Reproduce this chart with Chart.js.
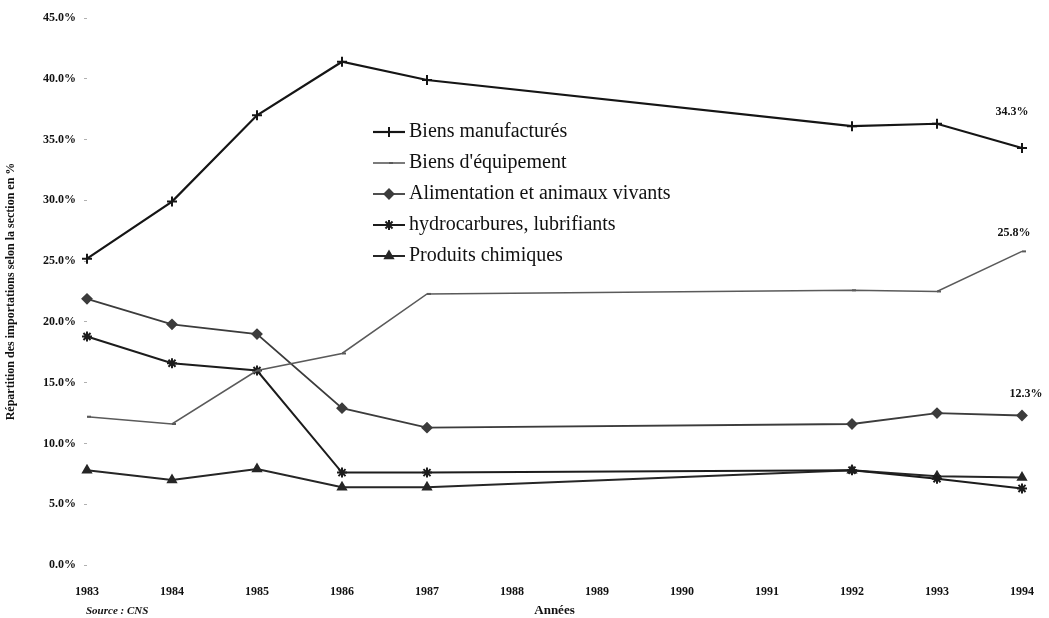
<!DOCTYPE html>
<html lang="fr">
<head>
<meta charset="utf-8">
<title>Répartition des importations selon la section</title>
<script src="https://cdn.jsdelivr.net/npm/chart.js@4/dist/chart.umd.min.js"></script>
<style>
  html, body { margin: 0; padding: 0; background: #fff; }
  #wrap { width: 1049px; height: 618px; position: relative; }
</style>
</head>
<body>
<div id="wrap"><canvas id="importChart" width="1049" height="618"></canvas></div>
<script>
/* ---------- données ---------- */
const annees = ['1983', '1984', '1985', '1986', '1987', '1988', '1989', '1990', '1991', '1992', '1993', '1994'];

// pas de relevé entre 1988 et 1991 : la courbe relie 1987 à 1992
const biensManufactures = [25.2, 29.9, 37.0, 41.4, 39.9, null, null, null, null, 36.1, 36.3, 34.3];
const biensEquipement   = [12.2, 11.6, 16.0, 17.4, 22.3, null, null, null, null, 22.6, 22.5, 25.8];
const alimentation      = [21.9, 19.8, 19.0, 12.9, 11.3, null, null, null, null, 11.6, 12.5, 12.3];
const hydrocarbures     = [18.8, 16.6, 16.0,  7.6,  7.6, null, null, null, null,  7.8,  7.1,  6.3];
const produitsChimiques = [ 7.8,  7.0,  7.9,  6.4,  6.4, null, null, null, null,  7.8,  7.3,  7.2];

const yTicks = [0, 5, 10, 15, 20, 25, 30, 35, 40, 45];

const SERIF = '"Liberation Serif", "DejaVu Serif", serif';

/* ---------- légende dessinée dans la zone du graphique ---------- */
const legendeInterne = {
    id: 'legendeInterne',
    afterDatasetsDraw(chart, args, opts) {
        const ctx = chart.ctx;
        ctx.save();
        chart.data.datasets.forEach((ds, i) => {
            const y = opts.y + i * opts.step;
            ctx.strokeStyle = ds.borderColor;
            ctx.lineWidth = ds.borderWidth;
            ctx.beginPath();
            ctx.moveTo(opts.x, y);
            ctx.lineTo(opts.x + opts.sample, y);
            ctx.stroke();
            ctx.fillStyle = ds.pointBackgroundColor;
            ctx.strokeStyle = ds.pointBorderColor;
            ctx.lineWidth = ds.pointBorderWidth;
            Chart.helpers.drawPoint(ctx, {
                pointStyle: ds.pointStyle,
                radius: ds.pointRadius,
                borderWidth: ds.pointBorderWidth,
                rotation: 0
            }, opts.x + opts.sample / 2, y);
            ctx.fillStyle = '#111';
            ctx.font = opts.font;
            ctx.textAlign = 'left';
            ctx.textBaseline = 'middle';
            ctx.fillText(ds.label, opts.x + opts.sample + 4, y);
        });
        ctx.restore();
    }
};

/* ---------- valeurs 1994 affichées au-dessus des points ---------- */
const etiquettesFin = {
    id: 'etiquettesFin',
    afterDatasetsDraw(chart, args, opts) {
        const ctx = chart.ctx;
        ctx.save();
        ctx.fillStyle = '#111';
        ctx.font = opts.font;
        ctx.textAlign = 'center';
        ctx.textBaseline = 'bottom';
        opts.items.forEach(item => {
            const meta = chart.getDatasetMeta(item.dataset);
            const last = meta.data.length - 1;
            const pt = meta.data[last];
            const v = chart.data.datasets[item.dataset].data[last];
            ctx.fillText(v.toFixed(1) + '%', pt.x + item.dx, pt.y - item.dy);
        });
        ctx.restore();
    }
};

/* ---------- mention de la source ---------- */
const mentionSource = {
    id: 'mentionSource',
    afterDraw(chart, args, opts) {
        const ctx = chart.ctx;
        ctx.save();
        ctx.fillStyle = '#111';
        ctx.font = opts.font;
        ctx.textAlign = 'left';
        ctx.textBaseline = 'middle';
        ctx.fillText(opts.text, opts.x, opts.y);
        ctx.restore();
    }
};

function serie(label, data, couleur, style, rayon, epaisseur) {
    return {
        label: label,
        data: data,
        borderColor: couleur,
        borderWidth: epaisseur,
        pointStyle: style,
        pointRadius: rayon,
        pointBackgroundColor: couleur,
        pointBorderColor: couleur,
        pointBorderWidth: 2,
        spanGaps: true,
        tension: 0
    };
}

const ctx = document.getElementById('importChart').getContext('2d');
new Chart(ctx, {
    type: 'line',
    data: {
        labels: annees,
        datasets: [
            serie('Biens manufacturés', biensManufactures, '#151515', 'cross', 5, 2.2),
            serie("Biens d'équipement", biensEquipement, '#5a5a5a', 'dash', 4, 1.6),
            serie('Alimentation et animaux vivants', alimentation, '#3c3c3c', 'rectRot', 4.5, 1.8),
            serie('hydrocarbures, lubrifiants', hydrocarbures, '#1c1c1c', 'star', 5, 2),
            serie('Produits chimiques', produitsChimiques, '#262626', 'triangle', 4.5, 2)
        ]
    },
    options: {
        responsive: false,
        animation: false,
        layout: { padding: { left: 4, right: 27, top: 18, bottom: 0 } },
        plugins: {
            legend: { display: false },
            tooltip: { enabled: false },
            legendeInterne: { x: 373, y: 132, step: 31, sample: 32, font: '20px ' + SERIF },
            etiquettesFin: {
                font: 'bold 12px ' + SERIF,
                items: [
                    { dataset: 0, dx: -10, dy: 30 },
                    { dataset: 1, dx: -8, dy: 12 },
                    { dataset: 2, dx: 4, dy: 16 }
                ]
            },
            mentionSource: { text: 'Source : CNS', x: 86, y: 611, font: 'italic bold 11px ' + SERIF }
        },
        scales: {
            x: {
                offset: false,
                grid: { display: false },
                border: { display: false },
                ticks: {
                    autoSkip: false,
                    maxRotation: 0,
                    color: '#111',
                    padding: 12,
                    font: { family: SERIF, size: 12, weight: 'bold' }
                },
                title: {
                    display: true,
                    text: 'Années',
                    color: '#111',
                    padding: { top: 6, bottom: 0 },
                    font: { family: SERIF, size: 13, weight: 'bold' }
                },
                afterFit(scale) { scale.height = 53; }
            },
            y: {
                min: 0,
                max: 45,
                afterBuildTicks(scale) { scale.ticks = yTicks.map(v => ({ value: v })); },
                grid: {
                    drawOnChartArea: false,
                    drawTicks: true,
                    tickLength: 3,
                    color: '#b0b0b0'
                },
                border: { display: false },
                ticks: {
                    color: '#111',
                    padding: 8,
                    font: { family: SERIF, size: 12, weight: 'bold' },
                    callback: v => v.toFixed(1) + '%'
                },
                title: {
                    display: true,
                    text: 'Répartition des importations selon la section en %',
                    color: '#111',
                    padding: { top: 0, bottom: 8 },
                    font: { family: SERIF, size: 12, weight: 'bold' }
                },
                afterFit(scale) { scale.width = 83; }
            }
        }
    },
    plugins: [legendeInterne, etiquettesFin, mentionSource]
});
</script>
</body>
</html>
